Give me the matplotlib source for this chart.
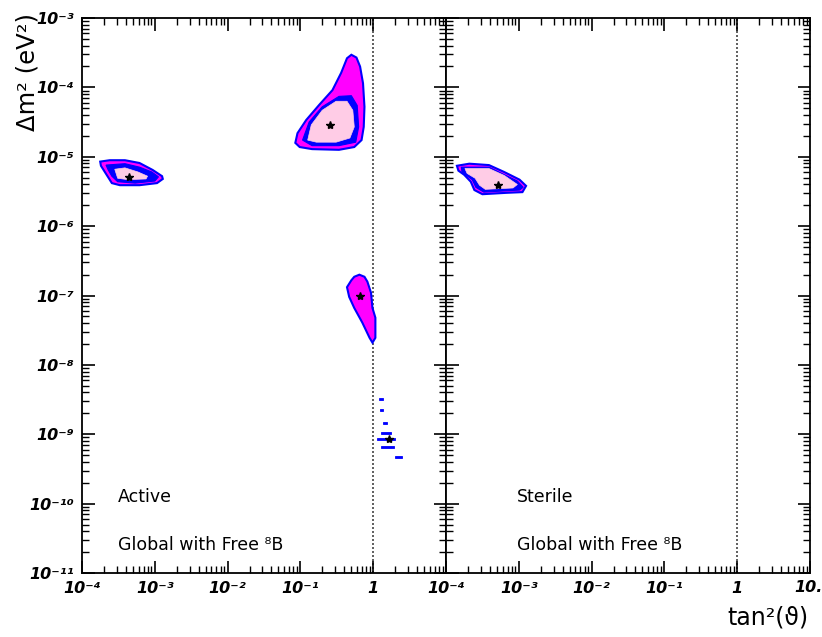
import numpy as np
import matplotlib
matplotlib.use("Agg")
import matplotlib.pyplot as plt
from matplotlib.ticker import FixedLocator, FixedFormatter, LogLocator, NullFormatter

# ---------------- data (log10 tan^2, log10 dm^2) ----------------
# Active panel: small-mixing-angle region
sma_outer_lx = [-3.75, -3.62, -3.41, -3.21, -3.03, -2.90, -2.89, -2.97, -3.21, -3.48, -3.59, -3.68, -3.74]
sma_outer_ly = [-5.07, -5.05, -5.05, -5.09, -5.19, -5.28, -5.32, -5.38, -5.41, -5.41, -5.38, -5.23, -5.13]
sma_mid_lx = [-3.67, -3.41, -3.21, -3.04, -2.95, -3.00, -3.27, -3.51, -3.59, -3.64]
sma_mid_ly = [-5.12, -5.10, -5.15, -5.22, -5.29, -5.35, -5.38, -5.36, -5.28, -5.19]
sma_in_lx = [-3.55, -3.41, -3.23, -3.10, -3.12, -3.37, -3.51]
sma_in_ly = [-5.18, -5.16, -5.22, -5.28, -5.32, -5.33, -5.31]
sma_best = (-3.36, -5.29)

# Active panel: large-mixing-angle region
lma_outer_lx = [-1.07, -1.04, -0.92, -0.74, -0.56, -0.44, -0.36, -0.30, -0.23, -0.18, -0.14, -0.12, -0.13,
                -0.16, -0.26, -0.47, -0.84, -1.01]
lma_outer_ly = [-4.80, -4.66, -4.47, -4.25, -4.04, -3.79, -3.58, -3.53, -3.57, -3.70, -3.94, -4.28, -4.57,
                -4.76, -4.86, -4.90, -4.89, -4.86]
lma_mid_lx = [-0.97, -0.88, -0.70, -0.47, -0.30, -0.22, -0.20, -0.24, -0.47, -0.84]
lma_mid_ly = [-4.76, -4.50, -4.28, -4.13, -4.12, -4.26, -4.57, -4.79, -4.84, -4.84]
lma_in_lx = [-0.90, -0.85, -0.70, -0.51, -0.36, -0.28, -0.26, -0.32, -0.51, -0.78]
lma_in_ly = [-4.76, -4.54, -4.33, -4.20, -4.20, -4.33, -4.57, -4.73, -4.79, -4.79]
lma_best = (-0.60, -4.54)

# Active panel: LOW region
low_outer_lx = [-0.19, -0.12, -0.08, -0.03, -0.01, 0.03, 0.03, -0.01, -0.05, -0.15, -0.26, -0.33, -0.36, -0.30, -0.26]
low_outer_ly = [-6.70, -6.73, -6.80, -6.96, -7.18, -7.32, -7.61, -7.68, -7.61, -7.39, -7.18, -7.02, -6.88, -6.78, -6.73]
low_best = (-0.18, -7.01)

# Active panel: vacuum islands (left/right log10 tan^2, log10 dm^2)
vac_lx0 = [0.08, 0.09, 0.14, 0.11, 0.05, 0.11, 0.30]
vac_lx1 = [0.14, 0.14, 0.19, 0.25, 0.30, 0.29, 0.40]
vac_ly = [-8.49, -8.65, -8.84, -8.98, -9.07, -9.18, -9.33]
vac_best = (0.22, -9.07)

# Sterile panel
ster_outer_lx = [-3.85, -3.68, -3.41, -3.20, -2.99, -2.90, -2.95, -3.17, -3.50, -3.61, -3.66, -3.75, -3.83]
ster_outer_ly = [-5.13, -5.10, -5.12, -5.22, -5.33, -5.42, -5.51, -5.52, -5.54, -5.48, -5.36, -5.26, -5.20]
ster_mid_lx = [-3.79, -3.41, -3.02, -2.94, -2.99, -3.48, -3.59, -3.64, -3.78]
ster_mid_ly = [-5.15, -5.15, -5.35, -5.44, -5.48, -5.51, -5.44, -5.33, -5.22]
ster_in_lx = [-3.74, -3.41, -3.20, -3.02, -3.08, -3.46, -3.54, -3.60, -3.71]
ster_in_ly = [-5.17, -5.17, -5.27, -5.40, -5.45, -5.47, -5.41, -5.31, -5.24]
ster_best = (-3.28, -5.41)

x_ticks = [1e-4, 1e-3, 1e-2, 1e-1, 1, 10]
x_labels_left = ["10⁻⁴", "10⁻³", "10⁻²", "10⁻¹", "1", ""]
x_labels_right = ["10⁻⁴", "10⁻³", "10⁻²", "10⁻¹", "1", ""]
x_last_label = "10."
y_ticks = [1e-11, 1e-10, 1e-9, 1e-8, 1e-7, 1e-6, 1e-5, 1e-4, 1e-3]
y_labels = ["10⁻¹¹", "10⁻¹⁰", "10⁻⁹", "10⁻⁸", "10⁻⁷", "10⁻⁶", "10⁻⁵", "10⁻⁴", "10⁻³"]

MAG = "#ff00ff"
BLUE = "#0000ff"
PINK = "#ffcce6"

fig = plt.figure(figsize=(8.22, 6.37), dpi=100)
W, H = 822, 637
ax1 = fig.add_axes([82 / W, 1 - 573 / H, 364 / W, 555 / H])
ax2 = fig.add_axes([446 / W, 1 - 573 / H, 364 / W, 555 / H])


def pow10(v):
    return [10 ** a for a in v]


def region(ax, olx, oly, mlx=None, mly=None, ilx=None, ily=None):
    ax.fill(pow10(olx), pow10(oly), facecolor=MAG, edgecolor=BLUE, lw=1.5, zorder=2)
    if mlx is not None:
        ax.fill(pow10(mlx), pow10(mly), facecolor=BLUE, edgecolor=BLUE, lw=0.8, zorder=3)
    if ilx is not None:
        ax.fill(pow10(ilx), pow10(ily), facecolor=PINK, edgecolor=PINK, lw=0.5, zorder=4)


def star(ax, p):
    ax.plot([10 ** p[0]], [10 ** p[1]], marker="*", color="black", ms=6, zorder=6, ls="none")


region(ax1, sma_outer_lx, sma_outer_ly, sma_mid_lx, sma_mid_ly, sma_in_lx, sma_in_ly)
star(ax1, sma_best)
region(ax1, lma_outer_lx, lma_outer_ly, lma_mid_lx, lma_mid_ly, lma_in_lx, lma_in_ly)
star(ax1, lma_best)
region(ax1, low_outer_lx, low_outer_ly)
star(ax1, low_best)
for a, b, c in zip(vac_lx0, vac_lx1, vac_ly):
    ax1.fill([10 ** a, 10 ** b, 10 ** b, 10 ** a],
             [10 ** (c - 0.015), 10 ** (c - 0.015), 10 ** (c + 0.015), 10 ** (c + 0.015)],
             facecolor=BLUE, edgecolor=BLUE, lw=0.6, zorder=3)
star(ax1, vac_best)

region(ax2, ster_outer_lx, ster_outer_ly, ster_mid_lx, ster_mid_ly, ster_in_lx, ster_in_ly)
star(ax2, ster_best)

tickfont = dict(family="DejaVu Sans", style="italic", weight="bold", size=11.5)
for ax, xl in ((ax1, x_labels_left), (ax2, x_labels_right)):
    ax.set_xscale("log")
    ax.set_yscale("log")
    ax.set_xlim(1e-4, 10)
    ax.set_ylim(1e-11, 1e-3)
    ax.axvline(1, color="#444444", ls=(0, (1.2, 1.2)), lw=1.2, zorder=1)
    ax.xaxis.set_major_locator(FixedLocator(x_ticks))
    ax.xaxis.set_major_formatter(FixedFormatter(xl))
    ax.yaxis.set_major_locator(FixedLocator(y_ticks))
    ax.xaxis.set_minor_locator(LogLocator(base=10, subs=np.arange(2, 10), numticks=20))
    ax.yaxis.set_minor_locator(LogLocator(base=10, subs=np.arange(2, 10), numticks=20))
    ax.xaxis.set_minor_formatter(NullFormatter())
    ax.yaxis.set_minor_formatter(NullFormatter())
    ax.tick_params(which="major", direction="in", length=9, width=1.2, top=True, right=True, pad=6)
    ax.tick_params(which="minor", direction="in", length=5, width=1.0, top=True, right=True)
    for lab in ax.get_xticklabels():
        lab.set_fontproperties(matplotlib.font_manager.FontProperties(**tickfont))
    for s in ax.spines.values():
        s.set_linewidth(1.3)

ax1.yaxis.set_major_formatter(FixedFormatter(y_labels))
for lab in ax1.get_yticklabels():
    lab.set_fontproperties(matplotlib.font_manager.FontProperties(**tickfont))
ax2.yaxis.set_major_formatter(NullFormatter())

# last x tick label of the right panel, kept just inside the figure edge
ax2.annotate(x_last_label, xy=(1, 0), xycoords="axes fraction", xytext=(-16, -15),
             textcoords="offset pixels", ha="left", va="center", **tickfont)

# panel texts
txt = dict(fontsize=12.5, va="center", ha="left")
ax1.text(10 ** -3.51, 10 ** -9.90, "Active", **txt)
ax1.text(10 ** -3.51, 10 ** -10.59, "Global with Free ⁸B", **txt)
ax2.text(10 ** -3.02, 10 ** -9.90, "Sterile", **txt)
ax2.text(10 ** -3.02, 10 ** -10.59, "Global with Free ⁸B", **txt)

fig.text(27 / W, 1 - 72 / H, "Δm² (eV²)", rotation=90, fontsize=17.5, ha="center", va="center")
fig.text(768 / W, 1 - 618 / H, "tan²(ϑ)", fontsize=17, ha="center", va="center")

fig.savefig("out.png", dpi=100)
